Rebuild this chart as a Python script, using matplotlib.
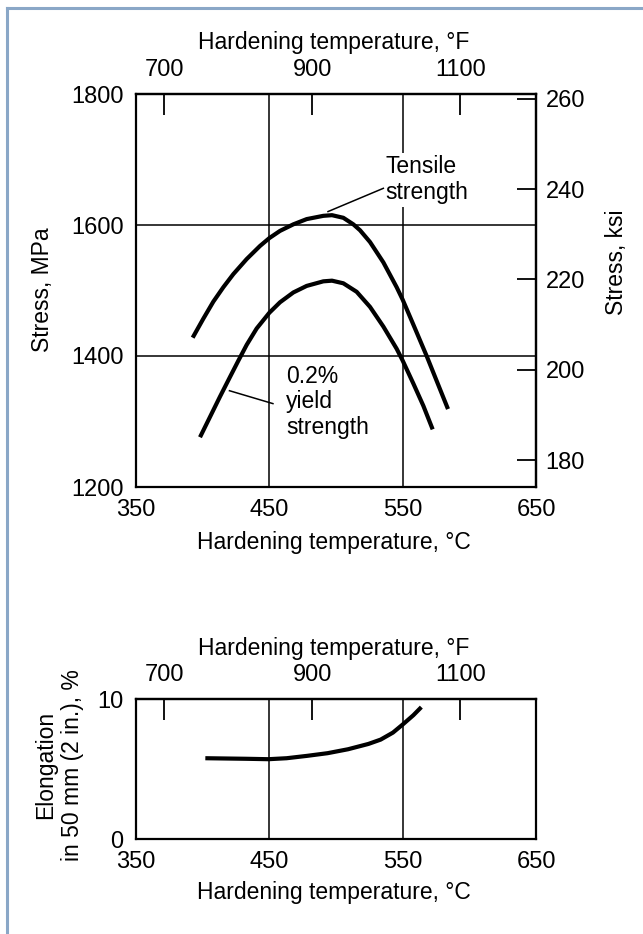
"""
Hardening temperature vs. strength and elongation (two stacked charts).
"""

import matplotlib
matplotlib.use("Agg")
import matplotlib.pyplot as plt
from matplotlib.lines import Line2D

plt.rcParams['font.family'] = ['Liberation Sans', 'DejaVu Sans']

# --- data ------------------------------------------------------------------
temp_c_ticks = [350, 450, 550, 650]
temp_f_ticks = [700, 900, 1100]
mpa_ticks = [1200, 1400, 1600, 1800]
ksi_ticks = [180, 200, 220, 240, 260]
elong_ticks = [0, 10]
grid_temps = [450, 550]
grid_mpa = [1400, 1600]

tensile_temp = [392.5, 400.5, 408, 415.5, 423, 433, 443, 450, 458, 468, 478,
                490.5, 497, 505.5, 513, 518, 525.5, 535.5, 545.5, 550, 558,
                568, 575.5, 584]
tensile_mpa = [1428, 1457, 1483, 1505, 1525, 1548, 1568, 1580, 1591, 1601, 1609,
               1614, 1615, 1611, 1601, 1592, 1574, 1543, 1505, 1486, 1448,
               1400, 1362, 1319]

yield_temp = [398, 405.5, 413, 420.5, 426.8, 433, 440.5, 450, 458, 468, 478,
              490.5, 497, 505.5, 515.5, 525.5, 535.5, 545.5, 550, 558, 565.5,
              572.5]
yield_mpa = [1276, 1307, 1338, 1368, 1393, 1417, 1442, 1466, 1482, 1497, 1507,
             1514, 1515, 1511, 1498, 1475, 1445, 1411, 1393, 1358, 1324, 1288]

elong_temp = [402, 432.6, 449.4, 463, 478.4, 493.7, 509, 524.3, 533.5, 542.7,
              550.3, 558, 564]
elong_pct = [5.77, 5.73, 5.70, 5.77, 5.94, 6.13, 6.41, 6.79, 7.10, 7.60,
             8.20, 8.84, 9.42]

MPA_PER_KSI = 6.894757

W, H = 643, 934
TICK_FS = 17
LABEL_FS = 16.5


def fx(x):
    return x / W


def fy(y):
    return 1 - y / H


def c2f(c):
    return c * 9 / 5 + 32


def f2c(f):
    return (f - 32) * 5 / 9


def style_axes(ax):
    for s in ax.spines.values():
        s.set_linewidth(1.6)
    ax.set_xlim(350, 650)
    ax.set_xticks(temp_c_ticks)
    ax.tick_params(axis='both', length=0, labelsize=TICK_FS)
    ax.tick_params(axis='x', pad=9)
    ax.tick_params(axis='y', pad=9)
    for t in grid_temps:
        ax.axvline(t, color='black', lw=1.1, zorder=1)
    sec = ax.secondary_xaxis('top', functions=(c2f, f2c))
    sec.set_xticks(temp_f_ticks)
    sec.tick_params(direction='in', length=15, width=1.3, labelsize=TICK_FS, pad=9)
    sec.spines['top'].set_linewidth(1.6)
    return sec


def curve(ax, x, y):
    ax.plot(x, y, color='black', lw=3.0, solid_joinstyle='round',
            solid_capstyle='butt', zorder=4)


fig = plt.figure(figsize=(W / 100, H / 100), dpi=100)

# --- top chart: stress --------------------------------------------------------
ax = fig.add_axes([fx(136), fy(487), fx(400), 393 / H])
style_axes(ax)
ax.set_ylim(1200, 1800)
ax.set_yticks(mpa_ticks)
for m in grid_mpa:
    ax.axhline(m, color='black', lw=1.1, zorder=1)

curve(ax, tensile_temp, tensile_mpa)
curve(ax, yield_temp, yield_mpa)

# leaders + labels
ax.plot([494, 535.5], [1620.5, 1656], color='black', lw=1.1, zorder=4)
ax.text(537, 1669, 'Tensile\nstrength', fontsize=LABEL_FS, ha='left', va='center',
        linespacing=1.15, zorder=3,
        bbox=dict(facecolor='white', edgecolor='none', pad=2))
ax.plot([420.1, 452.7], [1347, 1327.3], color='black', lw=1.1, zorder=4)
ax.text(462.5, 1330, '0.2%\nyield\nstrength', fontsize=LABEL_FS, ha='left',
        va='center', linespacing=1.15, zorder=3)

ksi = ax.secondary_yaxis('right', functions=(lambda m: m / MPA_PER_KSI,
                                              lambda k: k * MPA_PER_KSI))
ksi.set_yticks(ksi_ticks)
ksi.tick_params(direction='in', length=14, width=1.3, labelsize=TICK_FS, pad=7)
ksi.spines['right'].set_linewidth(1.6)

fig.text(fx(334), fy(43), 'Hardening temperature, °F', fontsize=LABEL_FS,
         ha='center', va='center')
fig.text(fx(334), fy(543), 'Hardening temperature, °C', fontsize=LABEL_FS,
         ha='center', va='center')
fig.text(fx(43), fy(290), 'Stress, MPa', fontsize=LABEL_FS, rotation=90,
         ha='center', va='center')
fig.text(fx(617), fy(262), 'Stress, ksi', fontsize=LABEL_FS, rotation=90,
         ha='center', va='center')

# --- bottom chart: elongation -----------------------------------------------
ax2 = fig.add_axes([fx(136), fy(839), fx(400), 140 / H])
style_axes(ax2)
ax2.set_ylim(0, 10)
ax2.set_yticks(elong_ticks)
curve(ax2, elong_temp, elong_pct)

fig.text(fx(334), fy(649), 'Hardening temperature, °F', fontsize=LABEL_FS,
         ha='center', va='center')
fig.text(fx(334), fy(892), 'Hardening temperature, °C', fontsize=LABEL_FS,
         ha='center', va='center')
fig.text(fx(59), fy(765), 'Elongation\nin 50 mm (2 in.), %', fontsize=LABEL_FS,
         rotation=90, ha='center', va='center', multialignment='center',
         linespacing=1.25)

# page frame (top and left edges only)
frame_col = '#8aa7c7'
fig.add_artist(Line2D([fx(7), 1], [fy(7.5), fy(7.5)], transform=fig.transFigure,
                      color=frame_col, lw=2.2))
fig.add_artist(Line2D([fx(7), fx(7)], [fy(7.5), 0], transform=fig.transFigure,
                      color=frame_col, lw=2.2))

fig.savefig('out.png', dpi=100, facecolor='white')
plt.close(fig)
